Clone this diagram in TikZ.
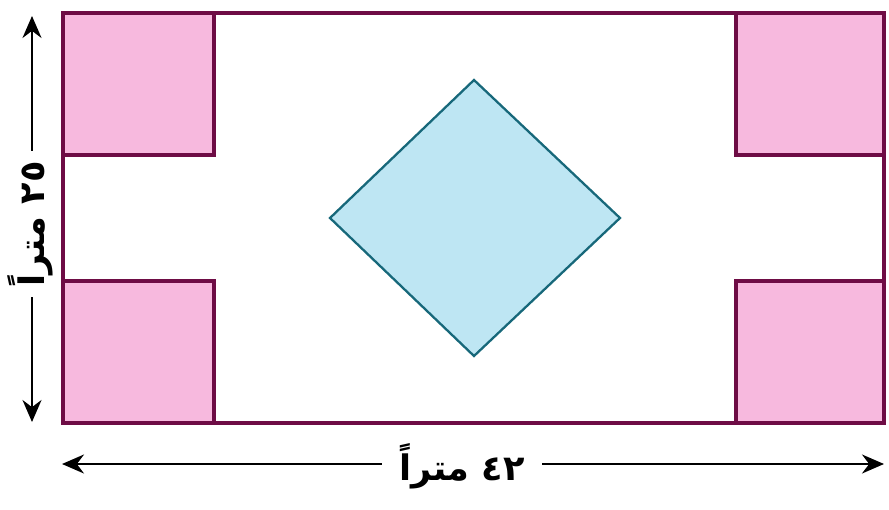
\documentclass[tikz,border=0pt]{standalone}
\usepackage{fontspec}
\usetikzlibrary{arrows.meta}
\TeXXeTstate=1
\newfontfamily\arabicfont[Script=Arabic]{DejaVu Sans}
\definecolor{plotpink}{HTML}{F7B9DE}
\definecolor{plotedge}{HTML}{6E0C45}
\definecolor{poolblue}{HTML}{BEE6F3}
\definecolor{pooledge}{HTML}{17687A}
\tikzset{
  plot/.style = {fill=plotpink, draw=plotedge, line width=2pt},
  dimarrow/.style = {->, line width=1.3pt, >={Stealth[length=4.4mm, width=3.8mm]}},
  dimlabel/.style = {font=\arabicfont\bfseries\fontsize{20}{24}\selectfont, inner sep=3pt}
}
\begin{document}
\begin{tikzpicture}[x=0.02cm, y=-0.02cm]
    \useasboundingbox (0,0) rectangle (889,510);
    % corner plots
    \draw[plot] (63,13) rectangle (214,155);
    \draw[plot] (63,281) rectangle (214,423);
    \draw[plot] (736,13) rectangle (884,155);
    \draw[plot] (736,281) rectangle (884,423);
    % outer field
    \draw[draw=plotedge, line width=2pt] (63,13) rectangle (884,423);
    % pool in the middle
    \draw[fill=poolblue, draw=pooledge, line width=1.3pt, line join=miter]
        (474,80) -- (620,218) -- (474,356) -- (330,218) -- cycle;
    % width
    \coordinate (wleft) at (62,464);
    \coordinate (wright) at (884,464);
    \node[dimlabel, inner xsep=10pt] (width) at (462,466) {\beginR ٤٢ متراً\endR};
    \draw[dimarrow] (width.west |- wleft) -- (wleft);
    \draw[dimarrow] (width.east |- wright) -- (wright);
    % height
    \coordinate (htop) at (32,16);
    \coordinate (hbot) at (32,422);
    \node[dimlabel, rotate=90, inner xsep=6pt] (height) at (30,224) {\beginR ٢٥ متراً\endR};
    \draw[dimarrow] (htop |- height.east) -- (htop);
    \draw[dimarrow] (hbot |- height.west) -- (hbot);
\end{tikzpicture}
\end{document}
